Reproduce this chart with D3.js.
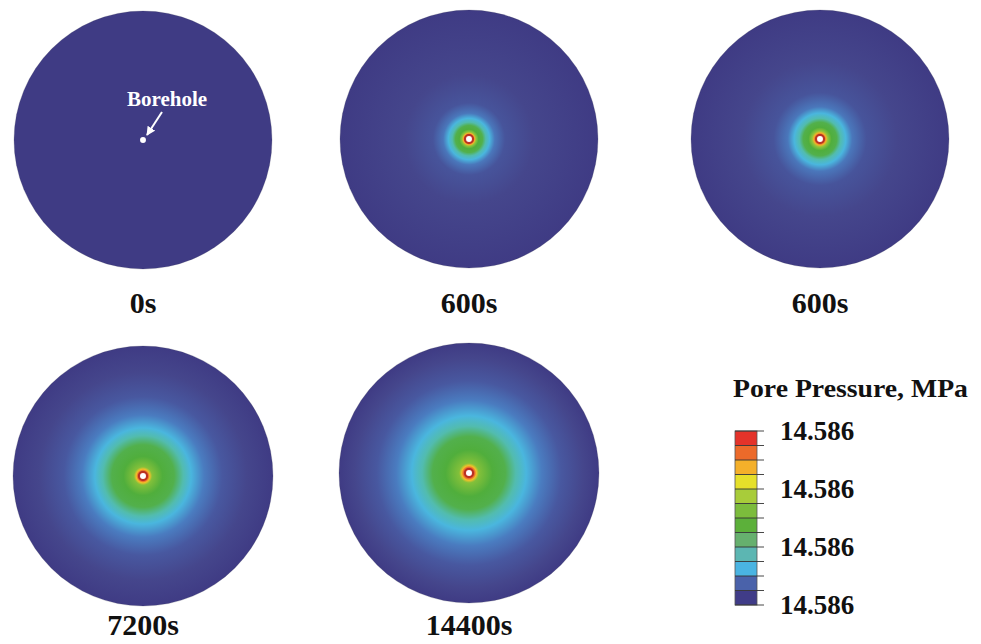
<!DOCTYPE html>
<html>
<head>
<meta charset="utf-8">
<script src="https://cdn.jsdelivr.net/npm/d3@7"></script>
<style>
  html, body { margin: 0; padding: 0; background: #fff; }
  svg { display: block; }
  text { font-family: "Liberation Serif", "Times New Roman", serif; font-weight: bold; }
</style>
</head>
<body>
<svg id="chart" width="981" height="644"></svg>
<script>
// Snapshot times of the pore-pressure field
const panelLabels = ["0s", "600s", "600s", "7200s", "14400s"];

// Radial profiles: distance from borehole (fraction of domain radius)
// and normalised pore-pressure level (0 = far field, 1 = borehole wall)
const profile0s = [[0.0, 0.0], [1.0, 0.0]];
const profile600a = [[0.023, 1.0], [0.035, 0.95], [0.045, 0.82], [0.055, 0.62], [0.075, 0.52],
  [0.105, 0.44], [0.13, 0.34], [0.16, 0.24], [0.2, 0.12], [0.28, 0.05], [0.5, 0.02], [1.0, 0.0]];
const profile600b = [[0.023, 1.0], [0.035, 0.95], [0.048, 0.82], [0.062, 0.62], [0.09, 0.52],
  [0.13, 0.44], [0.16, 0.34], [0.2, 0.24], [0.25, 0.12], [0.36, 0.05], [0.6, 0.02], [1.0, 0.0]];
const profile7200 = [[0.023, 1.0], [0.038, 0.95], [0.052, 0.8], [0.07, 0.6], [0.15, 0.52],
  [0.24, 0.44], [0.31, 0.34], [0.37, 0.24], [0.47, 0.13], [0.61, 0.06], [0.8, 0.02], [1.0, 0.0]];
const profile14400 = [[0.023, 1.0], [0.04, 0.95], [0.056, 0.8], [0.076, 0.6], [0.18, 0.52],
  [0.28, 0.44], [0.36, 0.34], [0.44, 0.24], [0.56, 0.13], [0.71, 0.06], [0.88, 0.02], [1.0, 0.0]];
const profiles = [profile0s, profile600a, profile600b, profile7200, profile14400];

// Borehole radius as a fraction of the domain radius
const boreholeRadius = 0.023;

// Legend
const legendTitle = "Pore Pressure, MPa";
const legendSegments = ["#e4332a", "#ec6a2a", "#f4b02a", "#e6e02a", "#a8cc3a", "#7cbc3c",
  "#5cb03a", "#66b06e", "#5cb6b2", "#4ab4e2", "#4a62aa", "#403c88"];
const legendTickLabels = ["14.586", "14.586", "14.586", "14.586"];

// Continuous colour ramp used inside the discs
const rampLevels = [0, 0.02, 0.06, 0.13, 0.24, 0.34, 0.44, 0.52, 0.62, 0.8, 0.95, 1.0];
const rampColors = ["#3f3b84", "#45468c", "#4858a0", "#4a7cc0", "#4ab6de", "#52bcae", "#52b04c",
  "#50ae3c", "#90c43a", "#f2c02a", "#e9552a", "#c42a24"];

const svg = d3.select("#chart");
const defs = svg.append("defs");
svg.append("rect").attr("width", 981).attr("height", 644).attr("fill", "#fff");

const color = d3.scaleLinear().domain(rampLevels).range(rampColors).interpolate(d3.interpolateRgb).clamp(true);

// Panel layout
const panels = [
  { cx: 143, cy: 140, r: 129, lx: 143, ly: 313 },
  { cx: 469, cy: 139, r: 129, lx: 469, ly: 313 },
  { cx: 820, cy: 139, r: 129, lx: 820, ly: 313 },
  { cx: 143, cy: 476, r: 130, lx: 143, ly: 635 },
  { cx: 469, cy: 473, r: 130, lx: 469, ly: 635 }
];

panels.forEach((p, i) => {
  const grad = defs.append("radialGradient")
    .attr("id", "field" + i)
    .attr("cx", "50%").attr("cy", "50%").attr("r", "50%");
  grad.selectAll("stop").data(profiles[i]).join("stop")
    .attr("offset", d => d[0])
    .attr("stop-color", d => color(d[1]));

  const g = svg.append("g").attr("transform", `translate(${p.cx},${p.cy})`);
  const rScale = d3.scaleLinear().domain([0, 1]).range([0, p.r]);

  g.append("circle")
    .attr("r", rScale(1))
    .attr("fill", `url(#field${i})`)
    .attr("stroke", "rgba(60,60,80,0.35)")
    .attr("stroke-width", 0.6);

  if (i > 0) {
    g.append("circle").attr("r", rScale(boreholeRadius) + 1.4)
      .attr("fill", "none").attr("stroke", "#a02a22").attr("stroke-width", 1.2).attr("opacity", 0.8);
  }
  g.append("circle").attr("r", rScale(boreholeRadius)).attr("fill", "#fff");

  svg.append("text")
    .attr("x", p.lx).attr("y", p.ly)
    .attr("text-anchor", "middle")
    .attr("font-size", 30)
    .attr("fill", "#111")
    .text(panelLabels[i]);
});

// Borehole annotation on the first disc
defs.append("marker")
  .attr("id", "arrowHead")
  .attr("viewBox", "0 0 10 10")
  .attr("refX", 9).attr("refY", 5)
  .attr("markerWidth", 4.5).attr("markerHeight", 4.5)
  .attr("markerUnits", "strokeWidth")
  .attr("orient", "auto")
  .append("path").attr("d", "M0,0 L10,5 L0,10 Z").attr("fill", "#fff");

svg.append("line")
  .attr("x1", 162).attr("y1", 112)
  .attr("x2", 147).attr("y2", 135)
  .attr("stroke", "#fff").attr("stroke-width", 2)
  .attr("marker-end", "url(#arrowHead)");

svg.append("text")
  .attr("x", 167).attr("y", 106)
  .attr("text-anchor", "middle")
  .attr("font-size", 21)
  .attr("fill", "#fff")
  .text("Borehole");

// Legend colour bar
const bar = { x: 735, w: 22, top: 431, bottom: 605, tickEnd: 764 };
const yLegend = d3.scaleLinear().domain([0, legendSegments.length]).range([bar.top, bar.bottom]);

svg.append("text")
  .attr("x", 733).attr("y", 397)
  .attr("font-size", 25)
  .attr("textLength", 235)
  .attr("lengthAdjust", "spacingAndGlyphs")
  .attr("fill", "#111")
  .text(legendTitle);

svg.append("g").selectAll("rect").data(legendSegments).join("rect")
  .attr("x", bar.x)
  .attr("y", (d, i) => yLegend(i))
  .attr("width", bar.w)
  .attr("height", (d, i) => yLegend(i + 1) - yLegend(i))
  .attr("fill", d => d);

svg.append("rect")
  .attr("x", bar.x).attr("y", bar.top)
  .attr("width", bar.w).attr("height", bar.bottom - bar.top)
  .attr("fill", "none").attr("stroke", "#555").attr("stroke-width", 0.8);

svg.append("g").selectAll("line").data(d3.range(legendSegments.length + 1)).join("line")
  .attr("x1", bar.x).attr("x2", bar.tickEnd)
  .attr("y1", d => yLegend(d)).attr("y2", d => yLegend(d))
  .attr("stroke", "#333").attr("stroke-width", 0.9);

const labelStep = legendSegments.length / (legendTickLabels.length - 1);
svg.append("g").selectAll("text").data(legendTickLabels).join("text")
  .attr("x", 780)
  .attr("y", (d, i) => yLegend(i * labelStep) + 9)
  .attr("font-size", 27)
  .attr("fill", "#111")
  .text(d => d);
</script>
</body>
</html>
